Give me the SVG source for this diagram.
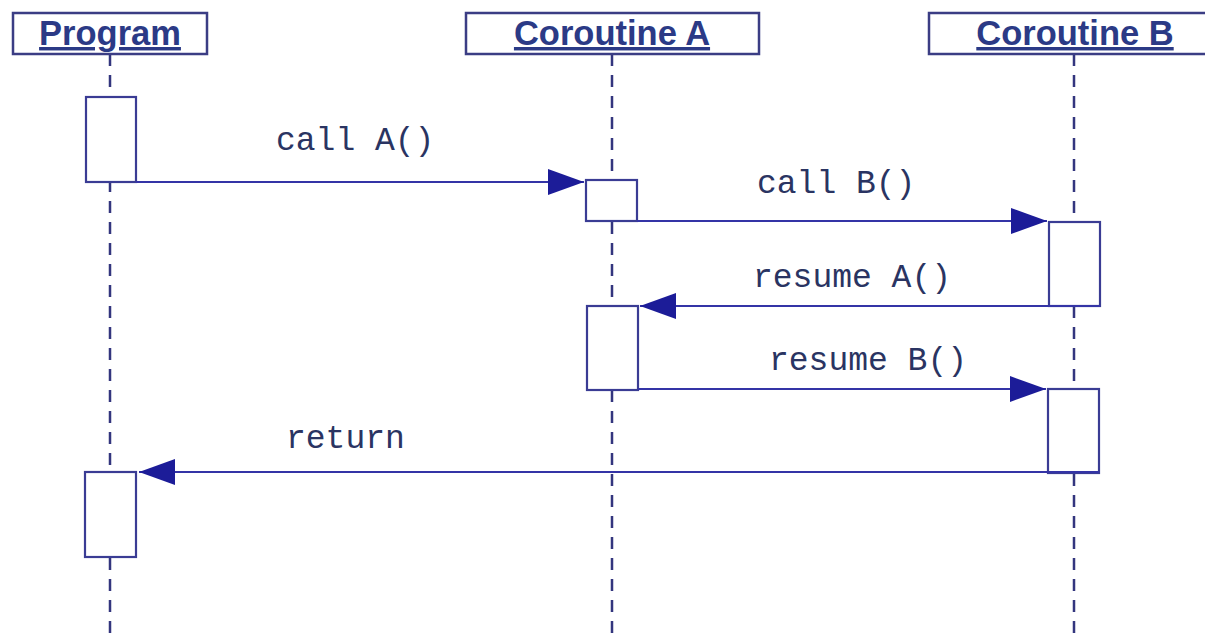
<svg xmlns="http://www.w3.org/2000/svg" width="1205" height="636" viewBox="0 0 1205 636">
  <style>
    .head rect { fill: #ffffff; stroke: #3b3d84; stroke-width: 2.5; }
    .head text { font-family: "Liberation Sans", Arial, sans-serif; font-weight: bold; font-size: 34.5px; fill: #2b3a86; text-anchor: middle; text-decoration: underline; }
    .life { stroke: #33357e; stroke-width: 2.5; stroke-dasharray: 12 9; fill: none; }
    .act { fill: #ffffff; stroke: #3a3c94; stroke-width: 2.2; }
    .msg { stroke: #3434a6; stroke-width: 2.2; fill: none; marker-end: url(#head); }
    .lbl { font-family: "Courier New", "Liberation Mono", monospace; font-size: 33px; fill: #2a3462; }
  </style>
  <defs>
    <marker id="head" markerUnits="userSpaceOnUse" markerWidth="37" markerHeight="27" refX="36" refY="13" orient="auto">
      <path d="M0,0 L36,13 L0,26 Z" fill="#1c1c98"/>
    </marker>
  </defs>

  <rect width="1205" height="636" fill="#ffffff"/>

  <!-- lifelines -->
  <g id="lifelines">
    <line class="life" x1="110" y1="54" x2="110" y2="636"/>
    <line class="life" x1="612" y1="54" x2="612" y2="636"/>
    <line class="life" x1="1074" y1="54" x2="1074" y2="636"/>
  </g>

  <!-- participants -->
  <g id="program" class="head">
    <rect x="13" y="13" width="194" height="41"/>
    <text x="110" y="45">Program</text>
  </g>
  <g id="coroutine-a" class="head">
    <rect x="466" y="13" width="293" height="41"/>
    <text x="612" y="45">Coroutine A</text>
  </g>
  <g id="coroutine-b" class="head">
    <rect x="929" y="13" width="290" height="41"/>
    <text x="1075" y="45">Coroutine B</text>
  </g>

  <!-- activation bars -->
  <g id="program-active-1"><rect class="act" x="86" y="97" width="50" height="85"/></g>
  <g id="a-active-1"><rect class="act" x="586" y="180" width="51" height="41"/></g>
  <g id="b-active-1"><rect class="act" x="1049" y="222" width="51" height="84"/></g>
  <g id="a-active-2"><rect class="act" x="587" y="306" width="51" height="84"/></g>
  <g id="b-active-2"><rect class="act" x="1048" y="389" width="51" height="84"/></g>
  <g id="program-active-2"><rect class="act" x="85" y="472" width="51" height="85"/></g>

  <!-- messages -->
  <g id="connectors">
    <line class="msg" x1="136" y1="182" x2="584" y2="182"/>
    <line class="msg" x1="637" y1="221" x2="1047" y2="221"/>
    <line class="msg" x1="1100" y1="306" x2="640" y2="306"/>
    <line class="msg" x1="638" y1="389" x2="1046" y2="389"/>
    <line class="msg" x1="1099" y1="472" x2="139" y2="472"/>
  </g>

  <g id="labels">
    <text class="lbl" x="276" y="150">call A()</text>
    <text class="lbl" x="757" y="193">call B()</text>
    <text class="lbl" x="753" y="287">resume A()</text>
    <text class="lbl" x="769" y="370">resume B()</text>
    <text class="lbl" x="286" y="448">return</text>
  </g>
</svg>
